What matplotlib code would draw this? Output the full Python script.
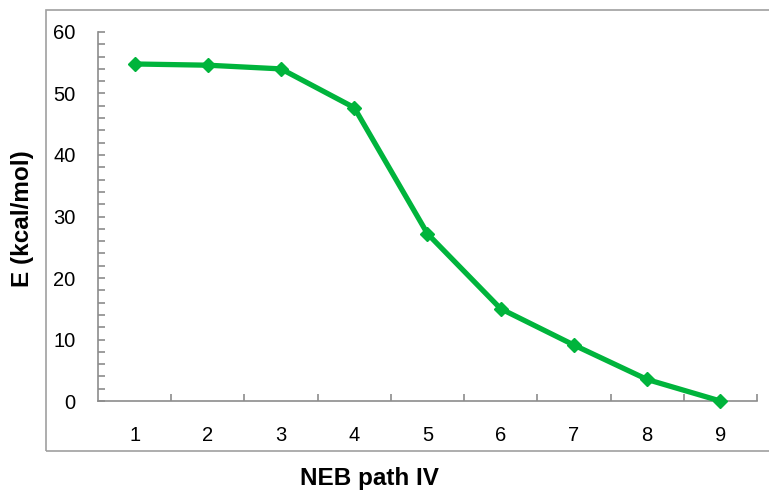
import matplotlib.pyplot as plt
from matplotlib.patches import Rectangle
from matplotlib.ticker import MultipleLocator, FixedLocator

plt.rcParams['font.family'] = ['Liberation Sans', 'DejaVu Sans']

images = [1, 2, 3, 4, 5, 6, 7, 8, 9]
energy = [54.8, 54.6, 54.0, 47.7, 27.2, 15.0, 9.1, 3.5, 0.0]

fig = plt.figure(figsize=(7.69, 4.96), dpi=100)

# outer chart border (Excel style)
fig.patches.append(Rectangle((0.0592, 0.0907), 1.0, 0.889, transform=fig.transFigure,
                             fill=False, edgecolor='#a0a0a0', linewidth=1.2))

ax = fig.add_axes([0.1274, 0.1915, 0.857, 0.744])
ax.plot(images, energy, color='#00b43c', linewidth=3.8, marker='D',
        markersize=7.5, clip_on=False, zorder=3)

ax.set_xlim(0.5, 9.5)
ax.set_ylim(0, 60)
ax.set_xticks(images)
ax.xaxis.set_minor_locator(FixedLocator([i + 0.5 for i in images]))
ax.yaxis.set_major_locator(MultipleLocator(10))
ax.yaxis.set_minor_locator(MultipleLocator(2))

ax.tick_params(axis='x', which='major', length=0, pad=18, labelsize=14.5)
ax.tick_params(axis='x', which='minor', direction='in', length=5, color='#8c8c8c', width=1.2)
ax.tick_params(axis='y', which='both', direction='in', length=5, color='#8c8c8c', width=1.2)
ax.tick_params(axis='y', which='major', pad=16, labelsize=14.5)

for s in ['top', 'right']:
    ax.spines[s].set_visible(False)
for s in ['left', 'bottom']:
    ax.spines[s].set_color('#8c8c8c')
    ax.spines[s].set_linewidth(1.2)

fig.text(0.481, 0.036, 'NEB path IV', ha='center', va='center',
         fontsize=17.5, fontweight='bold')
fig.text(0.029, 0.56, 'E (kcal/mol)', ha='center', va='center',
         rotation=90, fontsize=17.5, fontweight='bold')

fig.savefig('out.png', dpi=100)
